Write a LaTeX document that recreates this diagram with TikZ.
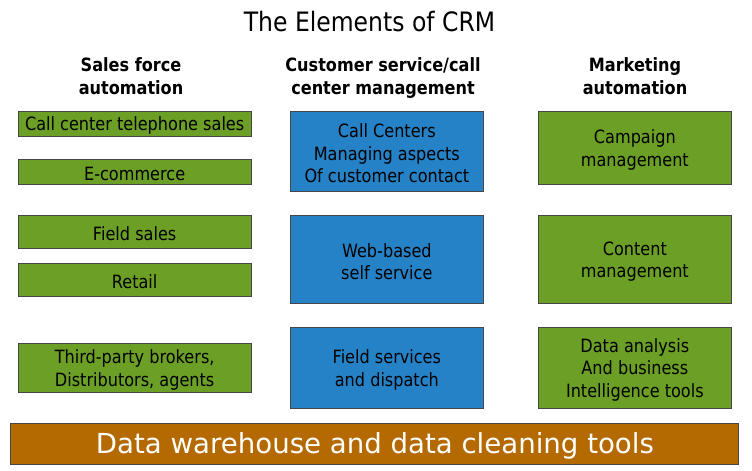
\documentclass[tikz,border=0pt]{standalone}
\usepackage{fontspec}
\setmainfont{DejaVu Sans}[FakeStretch=0.88]
\newfontfamily\barfont{DejaVu Sans}
\definecolor{crmgreen}{RGB}{107,159,37}
\definecolor{crmblue}{RGB}{38,130,198}
\definecolor{crmbrown}{RGB}{180,106,0}
\definecolor{crmedge}{RGB}{70,70,70}
\begin{document}
\begin{tikzpicture}[x=1pt,y=-1pt,
  box/.style={draw=crmedge, line width=0.9pt, inner sep=0pt},
  txt/.style={inner sep=0pt, align=center, yshift=-1.8pt,
    font=\fontsize{18.3}{22.6}\selectfont, text=black},
  gbox/.style={box, fill=crmgreen},
  bbox/.style={box, fill=crmblue},
  head/.style={anchor=north, inner sep=0pt, align=center,
    font=\bfseries\fontsize{18.3}{22.6}\selectfont},
  bartxt/.style={inner sep=0pt, yshift=-1.8pt, text=white,
    font=\barfont\fontsize{27.6}{30}\selectfont},
  bar/.style={draw=crmedge, line width=0.9pt, fill=crmbrown, inner sep=0pt}]
\useasboundingbox (0,0) rectangle (752,471);
\node[anchor=base, inner sep=0pt, font=\fontsize{26.7}{30}\selectfont] (title) at (369.5,31.7) {The Elements of CRM};
\node[head] (h1) at (131,57.3) {Sales force\\automation};
\node[head] (h2) at (383,57.3) {Customer service/call\\center management};
\node[head] (h3) at (635,57.3) {Marketing\\automation};
% left column
\node[gbox, minimum width=232.7pt, minimum height=24.3pt, label={[txt]center:Call center telephone sales}] (l1) at (134.65,123.85) {};
\node[gbox, minimum width=232.7pt, minimum height=24.3pt, label={[txt]center:E-commerce}] (l2) at (134.65,171.85) {};
\node[gbox, minimum width=232.7pt, minimum height=32.3pt, label={[txt]center:Field sales}] (l3) at (134.65,231.85) {};
\node[gbox, minimum width=232.7pt, minimum height=32.3pt, label={[txt]center:Retail}] (l4) at (134.65,279.85) {};
\node[gbox, minimum width=232.7pt, minimum height=48.6pt, label={[txt]center:Third-party brokers,\\Distributors, agents}] (l5) at (134.65,368) {};
% middle column
\node[bbox, minimum width=192.3pt, minimum height=80pt, label={[txt]center:Call Centers\\Managing aspects\\Of customer contact}] (m1) at (386.85,151.7) {};
\node[bbox, minimum width=192.3pt, minimum height=88pt, label={[txt]center:Web-based\\self service}] (m2) at (386.85,259.7) {};
\node[bbox, minimum width=192.3pt, minimum height=80.3pt, label={[txt]center:Field services\\and dispatch}] (m3) at (386.85,367.85) {};
% right column
\node[gbox, minimum width=192.3pt, minimum height=72.3pt, label={[txt]center:Campaign\\management}] (r1) at (634.85,147.85) {};
\node[gbox, minimum width=192.3pt, minimum height=88pt, label={[txt]center:Content\\management}] (r2) at (634.85,259.7) {};
\node[gbox, minimum width=192.3pt, minimum height=80.3pt, label={[txt]center:Data analysis\\And business\\Intelligence tools}] (r3) at (634.85,367.85) {};
% bottom bar
\node[bar, minimum width=728pt, minimum height=40.7pt, label={[bartxt]center:Data warehouse and data cleaning tools}] (dw) at (374.9,443.65) {};
\end{tikzpicture}
\end{document}
